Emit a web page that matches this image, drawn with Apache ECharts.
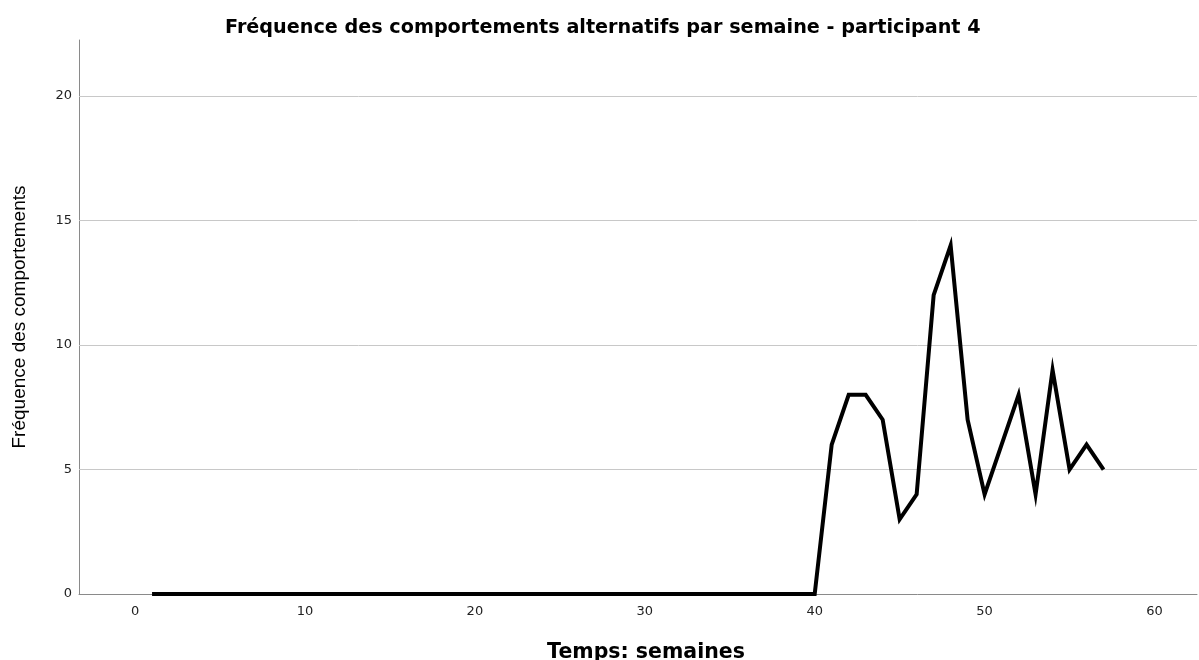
<!DOCTYPE html>
<html>
<head>
<meta charset="utf-8">
<script src="https://cdn.jsdelivr.net/npm/echarts@6/dist/echarts.min.js"></script>
<style>
html,body{margin:0;padding:0;background:#fff;overflow:hidden;}
#chart{width:1199px;height:660px;}
</style>
</head>
<body>
<div id="chart"></div>
<script>
const weeks = [1,2,3,4,5,6,7,8,9,10,11,12,13,14,15,16,17,18,19,20,21,22,23,24,25,26,27,28,29,30,31,32,33,34,35,36,37,38,39,40,41,42,43,44,45,46,47,48,49,50,51,52,53,54,55,56,57];
const frequency = [0,0,0,0,0,0,0,0,0,0,0,0,0,0,0,0,0,0,0,0,0,0,0,0,0,0,0,0,0,0,0,0,0,0,0,0,0,0,0,0,6,8,8,7,3,4,12,14,7,4,6,8,4,9,5,6,5];
const xTicks = [0,10,20,30,40,50,60];
const yTicks = [0,5,10,15,20];
const titleText = 'Fréquence des comportements alternatifs par semaine - participant 4';
const xTitle = 'Temps: semaines';
const yTitle = 'Fréquence des comportements';

const chart = echarts.init(document.getElementById('chart'), null, {renderer:'canvas'});
const wide = '"DejaVu Sans", "Liberation Sans", sans-serif';
const font = '"Liberation Sans", Arial, sans-serif';
chart.setOption({
  animation: false,
  backgroundColor: '#fff',
  title: {
    text: titleText,
    left: 220, top: 14,
    textStyle: {fontFamily: wide, fontSize: 19.2, fontWeight: 'bold', color: '#000'}
  },
  grid: {left: 79, width: 1118, top: 40, height: 554, containLabel: false, outerBoundsMode: 'none'},
  xAxis: {
    type: 'value',
    min: -3.3, max: 62.5,
    name: xTitle, nameLocation: 'middle', nameGap: 48,
    nameTextStyle: {fontFamily: wide, fontSize: 20.5, fontWeight: 'bold', color: '#000', padding: [0, 0, 0, 16]},
    axisLine: {show: true, onZero: false, lineStyle: {color: '#8a8a8a', width: 1}},
    axisTick: {show: false},
    splitLine: {show: false},
    axisLabel: {
      margin: 11, fontFamily: wide, fontSize: 13, color: '#222',
      customValues: xTicks,
      formatter: v => String(v)
    }
  },
  yAxis: {
    type: 'value',
    min: 0, max: 22.25,
    name: yTitle, nameLocation: 'middle', nameGap: 50, nameRotate: 90,
    nameTextStyle: {fontFamily: font, fontSize: 19, color: '#000'},
    axisLine: {show: true, onZero: false, lineStyle: {color: '#8a8a8a', width: 1}},
    axisTick: {show: false},
    splitLine: {show: false},
    axisLabel: {
      margin: 7, fontFamily: wide, fontSize: 13, color: '#222',
      customValues: yTicks,
      formatter: v => String(v)
    }
  },
  series: [{
    type: 'line',
    data: weeks.map((w, i) => [w, frequency[i]]),
    showSymbol: false,
    symbol: 'none',
    lineStyle: {color: '#000', width: 4, join: 'miter'},
    z: 5,
    markLine: {
      silent: true,
      symbol: 'none',
      label: {show: false},
      lineStyle: {color: '#c8c8c8', width: 1, type: 'solid'},
      z: 1,
      data: yTicks.filter(v => v > 0).map(v => ({yAxis: v}))
    }
  }]
});
</script>
</body>
</html>
